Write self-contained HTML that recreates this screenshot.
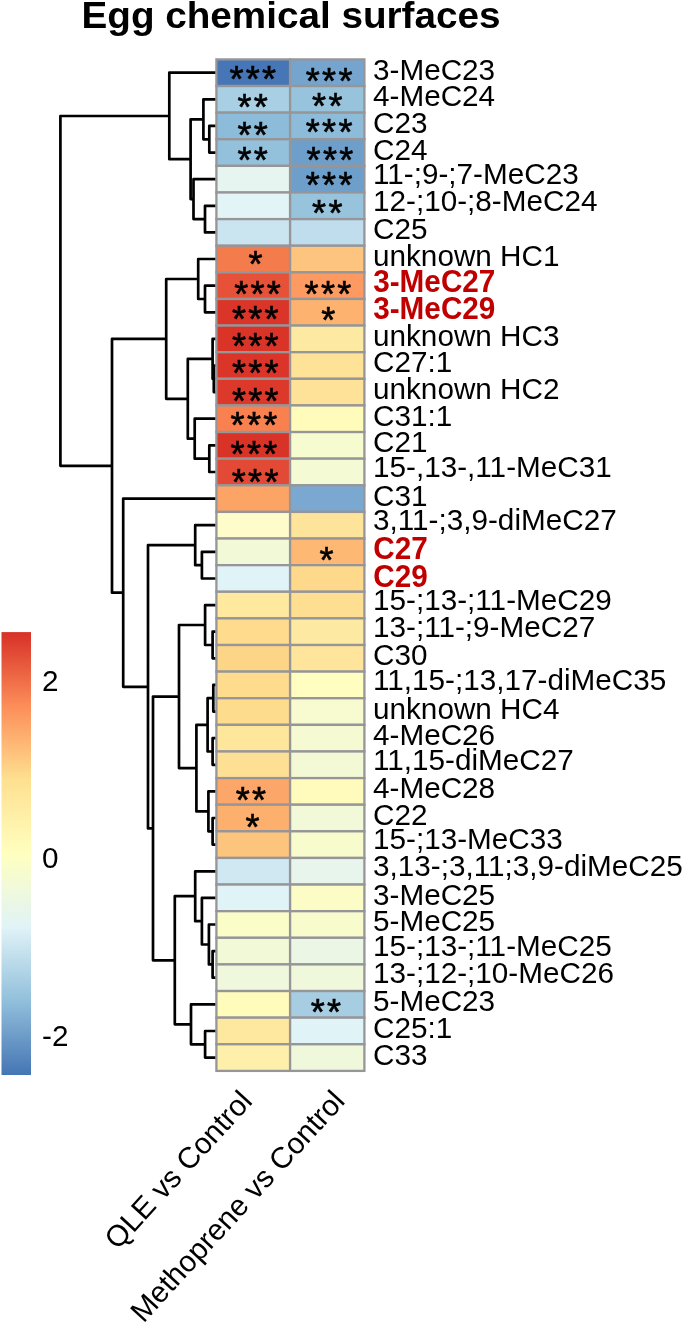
<!DOCTYPE html>
<html lang="en"><head><meta charset="utf-8"><title>Egg chemical surfaces</title>
<style>html,body{margin:0;padding:0;background:#fff}body{width:685px;height:1323px;overflow:hidden}svg{display:block}text{font-family:"Liberation Sans",Arial,Helvetica,sans-serif;fill:#000}.lb{font-size:29.7px}.bd{font-weight:bold;fill:#c00000;font-size:32.1px}.st{font-size:36px;letter-spacing:2.3px;stroke:#000;stroke-width:0.6px}</style>
</head><body>
<svg width="685" height="1323" viewBox="0 0 685 1323">
<defs><linearGradient id="lg" x1="0" y1="1" x2="0" y2="0">
<stop offset="0.0000" stop-color="#4575B4"/>
<stop offset="0.1667" stop-color="#91BFDB"/>
<stop offset="0.3333" stop-color="#E0F3F8"/>
<stop offset="0.5000" stop-color="#FFFFBF"/>
<stop offset="0.6667" stop-color="#FEE090"/>
<stop offset="0.8333" stop-color="#FC8D59"/>
<stop offset="1.0000" stop-color="#D73027"/>
</linearGradient></defs>
<rect width="685" height="1323" fill="#fff"/>
<text transform="translate(81.5,27.5) scale(1.0740,1)" font-size="36.0" font-weight="bold">Egg chemical surfaces</text>
<rect x="1.5" y="632.1" width="29.5" height="442.9" fill="url(#lg)"/>
<text class="lb" x="42" y="691.0">2</text>
<text class="lb" x="42" y="868.3">0</text>
<text class="lb" x="42" y="1045.9">-2</text>
<g stroke="#969699" stroke-width="2.3">
<rect x="216.4" y="59.40" width="73.7" height="26.62" fill="#4676B5"/>
<rect x="290.1" y="59.40" width="74.3" height="26.62" fill="#75A5CE"/>
<rect x="216.4" y="86.02" width="73.7" height="26.62" fill="#A8CFE3"/>
<rect x="290.1" y="86.02" width="74.3" height="26.62" fill="#97C3DD"/>
<rect x="216.4" y="112.64" width="73.7" height="26.62" fill="#8DBBDA"/>
<rect x="290.1" y="112.64" width="74.3" height="26.62" fill="#8DBBDA"/>
<rect x="216.4" y="139.26" width="73.7" height="26.62" fill="#93C0DB"/>
<rect x="290.1" y="139.26" width="74.3" height="26.62" fill="#6E9FCB"/>
<rect x="216.4" y="165.87" width="73.7" height="26.62" fill="#E6F5F0"/>
<rect x="290.1" y="165.87" width="74.3" height="26.62" fill="#6E9FCB"/>
<rect x="216.4" y="192.49" width="73.7" height="26.62" fill="#E2F4F6"/>
<rect x="290.1" y="192.49" width="74.3" height="26.62" fill="#97C3DD"/>
<rect x="216.4" y="219.11" width="73.7" height="26.62" fill="#CBE5F0"/>
<rect x="290.1" y="219.11" width="74.3" height="26.62" fill="#BFDDEC"/>
<rect x="216.4" y="245.73" width="73.7" height="26.62" fill="#F47B4C"/>
<rect x="290.1" y="245.73" width="74.3" height="26.62" fill="#FDC47F"/>
<rect x="216.4" y="272.35" width="73.7" height="26.62" fill="#E65138"/>
<rect x="290.1" y="272.35" width="74.3" height="26.62" fill="#FC9A62"/>
<rect x="216.4" y="298.97" width="73.7" height="26.62" fill="#DB3529"/>
<rect x="290.1" y="298.97" width="74.3" height="26.62" fill="#FDB36F"/>
<rect x="216.4" y="325.58" width="73.7" height="26.62" fill="#DA3428"/>
<rect x="290.1" y="325.58" width="74.3" height="26.62" fill="#FEE9A2"/>
<rect x="216.4" y="352.20" width="73.7" height="26.62" fill="#DB3529"/>
<rect x="290.1" y="352.20" width="74.3" height="26.62" fill="#FEE298"/>
<rect x="216.4" y="378.82" width="73.7" height="26.62" fill="#DD392B"/>
<rect x="290.1" y="378.82" width="74.3" height="26.62" fill="#FEE298"/>
<rect x="216.4" y="405.44" width="73.7" height="26.62" fill="#F9814F"/>
<rect x="290.1" y="405.44" width="74.3" height="26.62" fill="#FFFBBB"/>
<rect x="216.4" y="432.06" width="73.7" height="26.62" fill="#D93227"/>
<rect x="290.1" y="432.06" width="74.3" height="26.62" fill="#F6FBD0"/>
<rect x="216.4" y="458.68" width="73.7" height="26.62" fill="#E24A36"/>
<rect x="290.1" y="458.68" width="74.3" height="26.62" fill="#F4FAD4"/>
<rect x="216.4" y="485.29" width="73.7" height="26.62" fill="#FCA366"/>
<rect x="290.1" y="485.29" width="74.3" height="26.62" fill="#7BA8D0"/>
<rect x="216.4" y="511.91" width="73.7" height="26.62" fill="#FEFCCA"/>
<rect x="290.1" y="511.91" width="74.3" height="26.62" fill="#FEE49A"/>
<rect x="216.4" y="538.53" width="73.7" height="26.62" fill="#F2F9D6"/>
<rect x="290.1" y="538.53" width="74.3" height="26.62" fill="#FDB974"/>
<rect x="216.4" y="565.15" width="73.7" height="26.62" fill="#E0F3F7"/>
<rect x="290.1" y="565.15" width="74.3" height="26.62" fill="#FED98B"/>
<rect x="216.4" y="591.77" width="73.7" height="26.62" fill="#FEE99F"/>
<rect x="290.1" y="591.77" width="74.3" height="26.62" fill="#FEDE90"/>
<rect x="216.4" y="618.39" width="73.7" height="26.62" fill="#FEDB8D"/>
<rect x="290.1" y="618.39" width="74.3" height="26.62" fill="#FEE9A2"/>
<rect x="216.4" y="645.01" width="73.7" height="26.62" fill="#FDD586"/>
<rect x="290.1" y="645.01" width="74.3" height="26.62" fill="#FEE59B"/>
<rect x="216.4" y="671.62" width="73.7" height="26.62" fill="#FEDB8D"/>
<rect x="290.1" y="671.62" width="74.3" height="26.62" fill="#FFFDC0"/>
<rect x="216.4" y="698.24" width="73.7" height="26.62" fill="#FEDC8E"/>
<rect x="290.1" y="698.24" width="74.3" height="26.62" fill="#F7FBCF"/>
<rect x="216.4" y="724.86" width="73.7" height="26.62" fill="#FEE69A"/>
<rect x="290.1" y="724.86" width="74.3" height="26.62" fill="#F5FAD2"/>
<rect x="216.4" y="751.48" width="73.7" height="26.62" fill="#FEE094"/>
<rect x="290.1" y="751.48" width="74.3" height="26.62" fill="#F3F9D5"/>
<rect x="216.4" y="778.10" width="73.7" height="26.62" fill="#FCA669"/>
<rect x="290.1" y="778.10" width="74.3" height="26.62" fill="#FFFBBD"/>
<rect x="216.4" y="804.72" width="73.7" height="26.62" fill="#FDB06D"/>
<rect x="290.1" y="804.72" width="74.3" height="26.62" fill="#F1F9D9"/>
<rect x="216.4" y="831.33" width="73.7" height="26.62" fill="#FDC47D"/>
<rect x="290.1" y="831.33" width="74.3" height="26.62" fill="#F8FCCC"/>
<rect x="216.4" y="857.95" width="73.7" height="26.62" fill="#D0E8F1"/>
<rect x="290.1" y="857.95" width="74.3" height="26.62" fill="#E7F5EC"/>
<rect x="216.4" y="884.57" width="73.7" height="26.62" fill="#E0F3F7"/>
<rect x="290.1" y="884.57" width="74.3" height="26.62" fill="#FCFDC6"/>
<rect x="216.4" y="911.19" width="73.7" height="26.62" fill="#FBFDC8"/>
<rect x="290.1" y="911.19" width="74.3" height="26.62" fill="#F8FCCD"/>
<rect x="216.4" y="937.81" width="73.7" height="26.62" fill="#F2F9D7"/>
<rect x="290.1" y="937.81" width="74.3" height="26.62" fill="#EBF7E4"/>
<rect x="216.4" y="964.43" width="73.7" height="26.62" fill="#EFF8DD"/>
<rect x="290.1" y="964.43" width="74.3" height="26.62" fill="#F0F8DB"/>
<rect x="216.4" y="991.04" width="73.7" height="26.62" fill="#FFFBBB"/>
<rect x="290.1" y="991.04" width="74.3" height="26.62" fill="#A6CDE2"/>
<rect x="216.4" y="1017.66" width="73.7" height="26.62" fill="#FEE79E"/>
<rect x="290.1" y="1017.66" width="74.3" height="26.62" fill="#E0F3F7"/>
<rect x="216.4" y="1044.28" width="73.7" height="26.62" fill="#FEEFAA"/>
<rect x="290.1" y="1044.28" width="74.3" height="26.62" fill="#F0F8DB"/>
</g>
<text class="st" x="229.5" y="92.2">***</text>
<text class="st" x="305.8" y="93.6">***</text>
<text class="st" x="237.4" y="120.2">**</text>
<text class="st" x="312.1" y="119.1">**</text>
<text class="st" x="237.4" y="148.4">**</text>
<text class="st" x="305.8" y="144.9">***</text>
<text class="st" x="237.4" y="172.8">**</text>
<text class="st" x="306.6" y="172.8">***</text>
<text class="st" x="305.8" y="198.0">***</text>
<text class="st" x="312.1" y="226.1">**</text>
<text class="st" x="248.4" y="277.1">*</text>
<text class="st" x="234.2" y="306.7">***</text>
<text class="st" x="304.6" y="306.7">***</text>
<text class="st" x="232.0" y="332.1">***</text>
<text class="st" x="321.2" y="332.8">*</text>
<text class="st" x="232.0" y="359.0">***</text>
<text class="st" x="232.0" y="386.2">***</text>
<text class="st" x="232.0" y="413.5">***</text>
<text class="st" x="230.6" y="437.8">***</text>
<text class="st" x="230.6" y="467.3">***</text>
<text class="st" x="231.8" y="494.9">***</text>
<text class="st" x="319.4" y="573.4">*</text>
<text class="st" x="235.7" y="812.7">**</text>
<text class="st" x="245.6" y="840.4">*</text>
<text class="st" x="310.7" y="1024.5">**</text>
<path d="M215.3 125.9H209.3V152.6H215.3M215.3 99.3H203.4V139.3H209.3M215.3 205.8H205.0V232.4H215.3M215.3 179.2H193.5V219.1H205.0M203.4 119.3H190.6V199.1H193.5M215.3 72.7H169.3V159.2H190.6M215.3 285.7H205.0V312.3H215.3M215.3 259.0H198.2V299.0H205.0M215.3 365.5H213.8V392.1H215.3M215.3 338.9H212.6V378.8H213.8M215.3 445.4H209.3V472.0H215.3M215.3 418.7H194.7V458.7H209.3M212.6 358.9H187.8V438.7H194.7M198.2 279.0H166.2V398.8H187.8M215.3 551.8H201.9V578.5H215.3M215.3 525.2H195.2V565.2H201.9M215.3 631.7H212.6V658.3H215.3M215.3 605.1H205.1V645.0H212.6M215.3 684.9H213.3V711.6H215.3M215.3 738.2H212.6V764.8H215.3M213.3 698.2H207.6V751.5H212.6M215.3 818.0H212.6V844.6H215.3M215.3 791.4H208.4V831.3H212.6M207.6 724.9H196.4V811.4H208.4M205.1 625.0H179.0V768.1H196.4M215.3 951.1H212.6V977.7H215.3M215.3 924.5H208.9V964.4H212.6M215.3 897.9H201.9V944.5H208.9M215.3 871.3H195.2V921.2H201.9M215.3 1031.0H205.1V1057.6H215.3M215.3 1004.4H191.0V1044.3H205.1M195.2 896.2H174.8V1024.3H191.0M179.0 696.6H153.0V960.3H174.8M195.2 545.2H148.0V828.4H153.0M215.3 498.6H123.2V686.8H148.0M166.2 338.9H112.0V592.7H123.2M169.3 116.0H60.4V465.8H112.0" fill="none" stroke="#000" stroke-width="2.7" stroke-linejoin="round"/>
<text class="lb" x="373.0" y="79.6">3-MeC23</text>
<text class="lb" x="373.0" y="106.2">4-MeC24</text>
<text class="lb" x="373.0" y="132.8">C23</text>
<text class="lb" x="373.0" y="159.5">C24</text>
<text class="lb" x="373.0" y="184.0">11-;9-;7-MeC23</text>
<text class="lb" x="373.0" y="210.6">12-;10-;8-MeC24</text>
<text class="lb" x="373.0" y="239.3">C25</text>
<text class="lb" x="373.0" y="265.9">unknown HC1</text>
<text class="lb bd" transform="translate(373.2,292.3) scale(0.9260,1)">3-MeC27</text>
<text class="lb bd" transform="translate(373.2,319.1) scale(0.9260,1)">3-MeC29</text>
<text class="lb" x="373.0" y="345.8">unknown HC3</text>
<text class="lb" x="373.0" y="372.4">C27:1</text>
<text class="lb" x="373.0" y="399.0">unknown HC2</text>
<text class="lb" x="373.0" y="425.6">C31:1</text>
<text class="lb" x="373.0" y="452.3">C21</text>
<text class="lb" x="373.0" y="476.8">15-,13-,11-MeC31</text>
<text class="lb" x="373.0" y="505.5">C31</text>
<text class="lb" x="373.0" y="530.0">3,11-;3,9-diMeC27</text>
<text class="lb bd" transform="translate(373.2,559.4) scale(0.9260,1)">C27</text>
<text class="lb bd" transform="translate(373.2,586.5) scale(0.9260,1)">C29</text>
<text class="lb" x="373.0" y="609.9">15-;13-;11-MeC29</text>
<text class="lb" x="373.0" y="636.5">13-;11-;9-MeC27</text>
<text class="lb" x="373.0" y="665.2">C30</text>
<text class="lb" x="373.0" y="689.7">11,15-;13,17-diMeC35</text>
<text class="lb" x="373.0" y="718.5">unknown HC4</text>
<text class="lb" x="373.0" y="745.1">4-MeC26</text>
<text class="lb" x="373.0" y="769.6">11,15-diMeC27</text>
<text class="lb" x="373.0" y="798.3">4-MeC28</text>
<text class="lb" x="373.0" y="824.9">C22</text>
<text class="lb" x="373.0" y="849.4">15-;13-MeC33</text>
<text class="lb" x="373.0" y="876.1">3,13-;3,11;3,9-diMeC25</text>
<text class="lb" x="373.0" y="904.8">3-MeC25</text>
<text class="lb" x="373.0" y="931.4">5-MeC25</text>
<text class="lb" x="373.0" y="955.9">15-;13-;11-MeC25</text>
<text class="lb" x="373.0" y="982.5">13-;12-;10-MeC26</text>
<text class="lb" x="373.0" y="1011.3">5-MeC23</text>
<text class="lb" x="373.0" y="1037.9">C25:1</text>
<text class="lb" x="373.0" y="1064.5">C33</text>
<text class="lb" transform="translate(253.6,1102.3) rotate(-47.5)" text-anchor="end">QLE vs Control</text>
<text class="lb" transform="translate(346.3,1102.2) rotate(-47.5)" text-anchor="end">Methoprene vs Control</text>
</svg>
</body></html>
